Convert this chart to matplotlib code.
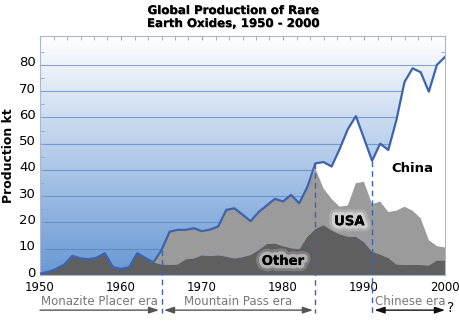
import numpy as np
import matplotlib
matplotlib.use('Agg')
import matplotlib.pyplot as plt
import matplotlib.patheffects as pe
import matplotlib.transforms as mtransforms
from matplotlib.colors import LinearSegmentedColormap

# Rare earth oxide production (kt)
years = list(range(1950, 2001))
other = [0.5, 1.2, 2.3, 4.0, 7.3, 6.3, 6.0, 6.6, 8.3, 3.0,
         2.3, 3.0, 8.3, 6.5, 4.8, 4.0, 3.8, 4.0, 6.0, 6.3,
         7.5, 7.2, 7.5, 7.0, 6.3, 6.8, 7.6, 9.5, 11.8, 12.0,
         11.0, 10.2, 9.8, 14.5, 17.5, 19.0, 17.0, 15.5, 14.6, 14.6,
         12.5, 8.9, 7.8, 6.5, 4.0, 3.8, 3.8, 3.8, 3.6, 5.5, 5.5]
usa = [0, 0, 0, 0, 0, 0, 0, 0, 0, 0,
       0, 0, 0, 0, 0, 5.5, 12.7, 13.2, 11.2, 11.5,
       9.2, 10.1, 11.0, 17.8, 19.1, 16.2, 12.9, 14.5, 14.7, 17.0,
       17.0, 20.3, 17.5, 19.0, 23.1, 14.0, 12.0, 10.5, 11.9, 20.4,
       23.0, 18.1, 20.2, 17.5, 20.5, 22.2, 20.7, 17.8, 9.7, 5.5, 5.0]
china = [0, 0, 0, 0, 0, 0, 0, 0, 0, 0,
         0, 0, 0, 0, 0, 0, 0, 0, 0, 0,
         0, 0, 0, 0, 0, 0, 0, 0, 0, 0,
         0, 0, 0, 0, 1.9, 10.0, 12.3, 22.0, 29.0, 25.5,
         16.5, 16.5, 22.0, 23.6, 34.5, 47.5, 54.2, 55.6, 56.5, 69.0, 72.5]

era_names = ['Monazite Placer era', 'Mountain Pass era', 'Chinese era']
era_start = [1950, 1965, 1991]
era_end = [1965, 1984, 2000]

total = np.array(other) + np.array(usa) + np.array(china)

fig = plt.figure(figsize=(4.6, 3.31), dpi=100)
ax = fig.add_axes([40 / 460, 1 - 275 / 331, 405 / 460, 239 / 331])
ymax = 91

# blue gradient background
cmap = LinearSegmentedColormap.from_list('bg', ['#6898d4', '#ffffff'])
grad = np.linspace(0, 1, 256)[:, None]
ax.imshow(grad, extent=[1950, 2000, 0, ymax], aspect='auto', cmap=cmap,
          origin='lower', zorder=0)

ax.stackplot(years, other, usa, china,
             colors=['#5f5f5f', '#9b9b9b', '#ffffff'], zorder=2)
ax.plot(years, total, color='#3d63b0', lw=1.6, zorder=3)

ax.set_xlim(1950, 2000)
ax.set_ylim(0, ymax)
ax.set_axisbelow(True)
ax.yaxis.grid(True, color='#5682c4', lw=0.8, alpha=0.7)
ax.set_yticks(range(0, 81, 10))
ax.set_yticks(range(5, 90, 5), minor=True)
ax.set_xticks(range(1950, 2001, 10))
ax.set_xticks(np.linspace(1950, 2000, 31), minor=True)
ax.tick_params(axis='y', which='both', direction='in', length=3,
               color='#8fa3c0', labelsize=9.5, pad=3, right=True)
ax.tick_params(axis='x', which='both', bottom=False, top=True,
               direction='in', length=3, color='#8fa3c0', labelsize=8.5, pad=4)
for s in ax.spines.values():
    s.set_color('#a8b8cf')
    s.set_linewidth(0.8)

# y labels sit a little above their gridlines
lift = mtransforms.ScaledTranslation(0, 2.5 / 72, fig.dpi_scale_trans)
for lab in ax.get_yticklabels():
    lab.set_transform(lab.get_transform() + lift)

ax.set_ylabel('Production kt', fontsize=9, fontweight='bold', labelpad=3)

# series labels with a soft glow
glow = [pe.withStroke(linewidth=9, foreground='white', alpha=0.2),
        pe.withStroke(linewidth=5, foreground='white', alpha=0.4),
        pe.Normal()]
ax.text(1996, 40.5, 'China', ha='center', va='center', fontsize=9.5,
        fontweight='bold', zorder=5)
ax.text(1988.2, 20.3, 'USA', ha='center', va='center', fontsize=9.5,
        fontweight='bold', path_effects=glow, zorder=5)
ax.text(1980, 5.2, 'Other', ha='center', va='center', fontsize=9.5,
        fontweight='bold', path_effects=glow, zorder=5)

# era boundaries and arrows below the axis
y_bot = -0.16 * ymax
for b in [era_start[1], era_end[1], era_start[2]]:
    top = np.interp(b, years, total)
    ax.plot([b, b], [top, y_bot], color='#3d63b0', lw=1, ls=(0, (4, 3)),
            clip_on=False, zorder=4)

trans = ax.get_xaxis_transform()
styles = ['-|>', '<|-|>', '<|-|>']
colors = ['#555555', '#555555', '#111111']
for i, name in enumerate(era_names):
    x0 = era_start[i] + (0 if i == 0 else 0.3)
    x1 = era_end[i] - (0.3 if i < 2 else 0)
    ax.annotate('', xy=(x1, -0.147), xytext=(x0, -0.147), xycoords=trans,
                textcoords=trans,
                arrowprops=dict(arrowstyle=styles[i] + ',head_length=0.6,head_width=0.2',
                                color=colors[i], lw=1, shrinkA=0, shrinkB=0))
    ax.text((x0 + x1) / 2, -0.112, name, transform=trans, ha='center',
            va='center', fontsize=8.5, color='#777777')
ax.text(2000.2, -0.14, '?', transform=trans, ha='left', va='center',
        fontsize=10, color='#111111')

fig.text(233 / 460, 1 - 17 / 331, 'Global Production of Rare\nEarth Oxides, 1950 - 2000',
         ha='center', va='center', fontsize=8.5, fontweight='bold',
         linespacing=1.0,
         path_effects=[pe.withSimplePatchShadow(offset=(0.6, -0.6), alpha=0.25),
                       pe.Normal()])

fig.savefig('out.png', dpi=100)
